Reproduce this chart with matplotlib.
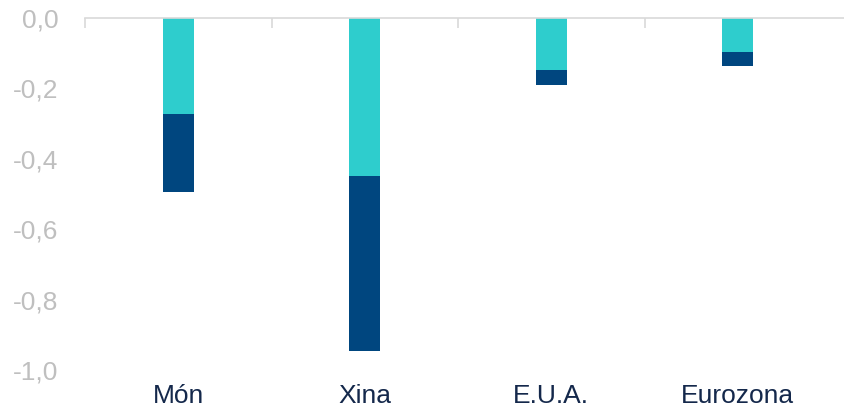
import matplotlib
matplotlib.use("Agg")
import matplotlib.pyplot as plt
from matplotlib.ticker import FuncFormatter

categories = ["Món", "Xina", "E.U.A.", "Eurozona"]
part_top = [-0.273, -0.450, -0.148, -0.097]
part_bottom = [-0.220, -0.495, -0.042, -0.040]

CYAN = "#2ECDCD"
NAVY = "#00467F"

plt.rcParams["font.family"] = ["Liberation Sans", "DejaVu Sans"]

fig = plt.figure(figsize=(8.44, 4.08), dpi=100)
ax = fig.add_axes([85 / 844, 1 - 370 / 408, (844 - 85) / 844, (370 - 18) / 408])

x = list(range(len(categories)))
w = 0.166
ax.bar(x, part_top, width=w, color=CYAN, zorder=2)
ax.bar(x, part_bottom, bottom=part_top, width=w, color=NAVY, zorder=2)

# category slots ~186 px wide, top line runs on to the right edge
ax.set_xlim(-0.5, -0.5 + (844 - 85) / 186.5)
ax.set_ylim(-1.0, 0.0)

for s in ["left", "right", "bottom"]:
    ax.spines[s].set_visible(False)
ax.spines["top"].set_color("#D9D9D9")
ax.spines["top"].set_linewidth(1.2)

# y ticks
ax.set_yticks([0, -0.2, -0.4, -0.6, -0.8, -1.0])
ax.yaxis.set_major_formatter(FuncFormatter(lambda v, p: f"{v:.1f}".replace(".", ",")))
ax.tick_params(axis="y", length=0, pad=19, labelsize=19, labelcolor="#BFBFBF")

# category labels at bottom, boundary ticks on the top line
ax.set_xticks(x)
ax.set_xticklabels(categories)
ax.tick_params(axis="x", which="major", length=0, pad=10, labelsize=19, labelcolor="#14284B")
ax.set_xticks([i - 0.5 for i in range(len(categories))], minor=True)
ax.tick_params(axis="x", which="minor", top=True, bottom=False, direction="in",
               length=7, color="#D9D9D9", width=1.2)

fig.savefig("out.png", dpi=100)
